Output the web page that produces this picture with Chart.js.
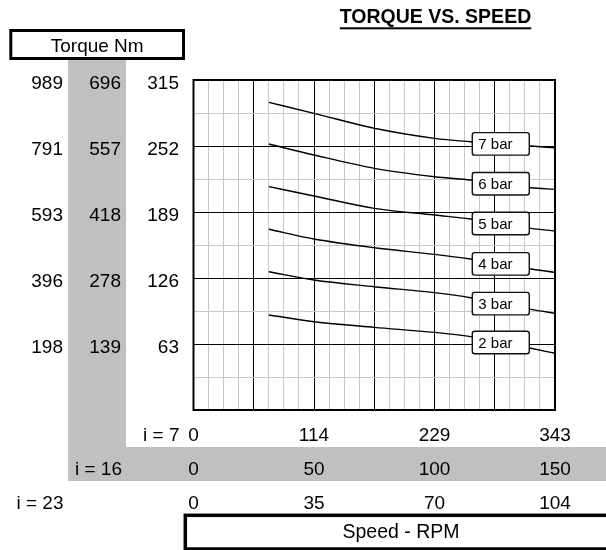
<!DOCTYPE html>
<html>
<head>
<meta charset="utf-8">
<script src="https://cdn.jsdelivr.net/npm/chart.js@4/dist/chart.umd.min.js"></script>
<style>
  html, body { margin: 0; padding: 0; background: #fff; }
  #wrap { width: 606px; height: 550px; }
</style>
</head>
<body>
<div id="wrap"><canvas id="c" width="606" height="550"></canvas></div>
<script>
// ---- data ----
const speedI16 = [0, 50, 100, 150];            // x axis values (i = 16)
const speedI7  = ['0', '114', '229', '343'];   // same ticks for i = 7
const speedI23 = ['0', '35', '70', '104'];     // same ticks for i = 23
const torqueI7  = [63, 126, 189, 252, 315];    // y axis values (i = 7)
const torqueI16 = [139, 278, 418, 557, 696];
const torqueI23 = [198, 396, 593, 791, 989];

const pressureLabels = ['7 bar', '6 bar', '5 bar', '4 bar', '3 bar', '2 bar'];
const speedPoints = [31.25, 50, 75, 100, 115, 127.5, 140, 150];
const torque7bar = [293.7, 283.2, 268.9, 259.3, 256.1, 254.0, 252.0, 250.3];
const torque6bar = [253.9, 243.4, 230.7, 222.7, 219.5, 216.0, 212.2, 210.6];
const torque5bar = [213.2, 204.3, 192.5, 186.1, 182.3, 178.0, 173.4, 170.9];
const torque4bar = [172.5, 163.2, 154.9, 148.6, 144.1, 139.5, 134.6, 131.4];
const torque3bar = [132.0, 124.1, 117.7, 112.0, 107.2, 101.5, 96.1, 92.3];
const torque2bar = [90.7, 84.3, 78.9, 74.1, 70.0, 64.5, 58.9, 54.1];
const labelPointIndex = 5;

const seriesValues = [torque7bar, torque6bar, torque5bar, torque4bar, torque3bar, torque2bar];

const FONT = '"Liberation Sans", Arial, sans-serif';

const datasets = seriesValues.map((vals, k) => ({
  label: pressureLabels[k],
  data: speedPoints.map((x, i) => ({ x: x, y: vals[i] })),
  borderColor: '#000',
  borderWidth: 1.4,
  pointRadius: 0,
  fill: false,
  cubicInterpolationMode: 'monotone'
}));

const decorPlugin = {
  id: 'decor',
  beforeDraw(chart) {
    const ctx = chart.ctx;
    ctx.save();
    ctx.fillStyle = '#fff';
    ctx.fillRect(0, 0, chart.width, chart.height);
    ctx.fillStyle = '#c0c0c0';
    ctx.fillRect(68, 60, 58, 388);
    ctx.fillRect(68, 447, 538, 34);
    ctx.restore();
  },
  afterDatasetsDraw(chart) {
    const ctx = chart.ctx;
    const xs = chart.scales.x, ys = chart.scales.y;
    const a = chart.chartArea;
    ctx.save();
    // series labels
    chart.data.datasets.forEach((ds, k) => {
      const pt = chart.getDatasetMeta(k).data[labelPointIndex];
      const w = 57, h = 22.5;
      const bx = pt.x - w / 2, by = pt.y - h / 2;
      ctx.beginPath();
      ctx.roundRect(bx, by, w, h, 2.5);
      ctx.fillStyle = '#fff';
      ctx.fill();
      ctx.lineWidth = 1.4;
      ctx.strokeStyle = '#111';
      ctx.stroke();
      ctx.fillStyle = '#000';
      ctx.font = '15px ' + FONT;
      ctx.textAlign = 'left';
      ctx.textBaseline = 'alphabetic';
      ctx.fillText(ds.label, bx + 6, pt.y + 5.3);
    });
    // plot frame
    ctx.lineWidth = 2;
    ctx.strokeStyle = '#000';
    ctx.strokeRect(a.left, a.top, a.right - a.left, a.bottom - a.top);

    ctx.fillStyle = '#000';
    ctx.font = '19px ' + FONT;
    // y labels (three columns)
    ctx.textAlign = 'right';
    torqueI7.forEach((v, i) => {
      const y = ys.getPixelForValue(v) + 8.5;
      ctx.fillText(String(torqueI23[i]), 63, y);
      ctx.fillText(String(torqueI16[i]), 121, y);
      ctx.fillText(String(v), 179, y);
    });
    // x labels (three rows)
    ctx.textAlign = 'center';
    speedI16.forEach((v, i) => {
      const x = xs.getPixelForValue(v);
      ctx.fillText(speedI7[i], x, 440.5);
      ctx.fillText(String(v), x, 475.3);
      ctx.fillText(speedI23[i], x, 508.6);
    });
    ctx.textAlign = 'right';
    ctx.fillText('i = 7', 179.5, 440.5);
    ctx.fillText('i = 16', 122, 475.3);
    ctx.fillText('i = 23', 63.5, 508.6);

    // Torque box
    ctx.lineWidth = 3;
    ctx.strokeRect(10.8, 30.5, 172.7, 28);
    ctx.textAlign = 'center';
    ctx.fillText('Torque Nm', 97.2, 51.7);

    // Speed box
    ctx.lineWidth = 3.5;
    ctx.strokeRect(185.3, 515.3, 440, 33.7);
    ctx.font = '19.5px ' + FONT;
    ctx.fillText('Speed - RPM', 401, 537.7);

    // Title
    ctx.font = 'bold 19.5px ' + FONT;
    const title = 'TORQUE VS. SPEED';
    const tw = ctx.measureText(title).width;
    ctx.fillText(title, 435.5, 23.3);
    ctx.fillRect(435.5 - tw / 2, 27.3, tw, 2);
    ctx.restore();
  }
};

new Chart(document.getElementById('c'), {
  type: 'line',
  data: { datasets: datasets },
  options: {
    responsive: false,
    animation: false,
    devicePixelRatio: 1,
    layout: { padding: { left: 193.5, right: 51, top: 80, bottom: 140 } },
    plugins: { legend: { display: false }, tooltip: { enabled: false } },
    scales: {
      x: {
        type: 'linear',
        min: 0, max: 150,
        ticks: { display: false, stepSize: 6.25, maxTicksLimit: 100 },
        grid: {
          drawTicks: false,
          lineWidth: 1,
          color: (c) => (Math.abs(c.tick.value % 25) < 1e-6 ? '#000' : '#c8c8c8')
        },
        border: { display: false }
      },
      y: {
        type: 'linear',
        min: 0, max: 315,
        ticks: { display: false, stepSize: 31.5, maxTicksLimit: 100 },
        grid: {
          drawTicks: false,
          lineWidth: 1,
          color: (c) => (Math.abs(c.tick.value % 63) < 1e-6 ? '#000' : '#c8c8c8')
        },
        border: { display: false }
      }
    }
  },
  plugins: [decorPlugin]
});
</script>
</body>
</html>
